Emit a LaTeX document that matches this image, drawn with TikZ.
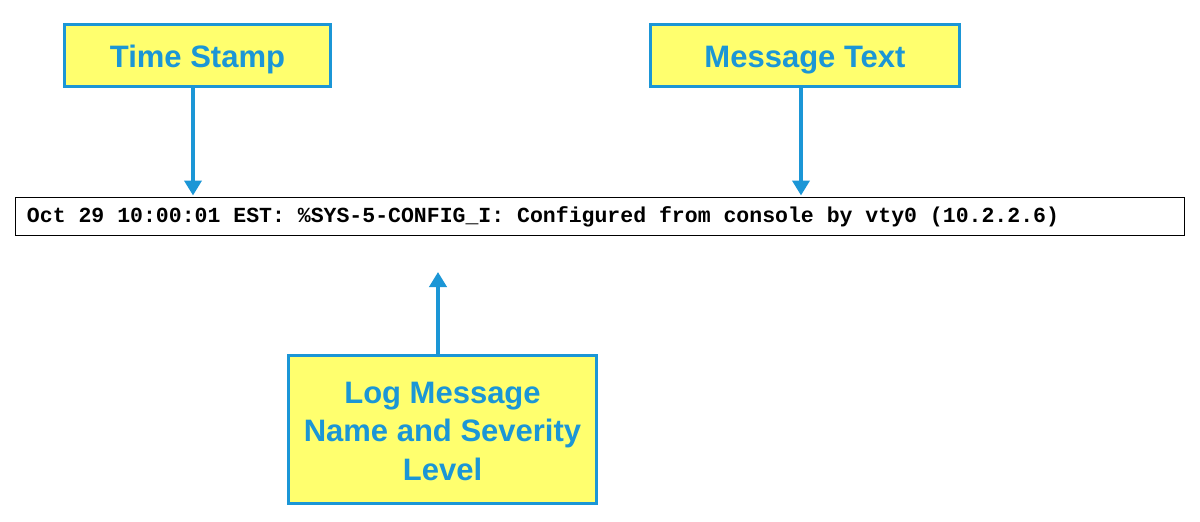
\documentclass[tikz,border=0pt]{standalone}
\usepackage{fontspec}
\setmainfont{Liberation Sans}
\setmonofont{Liberation Mono}
\usetikzlibrary{arrows.meta,calc}
\definecolor{cblue}{RGB}{27,150,214}
\definecolor{cyellow}{RGB}{255,255,110}
\begin{document}
\begin{tikzpicture}[x=1pt,y=-1pt,
  callout/.style={draw=cblue, line width=3pt, fill=cyellow, text=cblue,
    font=\fontsize{31}{38.5}\selectfont\bfseries, align=center, inner sep=0pt,
    text height=24pt, text depth=0pt},
  logline/.style={draw=black, line width=1pt, fill=white,
    font=\fontsize{21.5}{24}\selectfont\ttfamily\bfseries, align=left,
    inner xsep=11.5pt, inner ysep=0pt, minimum height=38pt, text width=1146pt},
  arr/.style={draw=cblue, line width=4pt, -{Triangle[width=17pt,length=15pt]}}]
\useasboundingbox (0,0) rectangle (1200,522);
\fill[white] (0,0) rectangle (1200,522);
\node[callout, minimum width=266pt, minimum height=62pt] (ts) at (197.5,55.5) {Time Stamp};
\node[callout, minimum width=309pt, minimum height=62pt] (mt) at (805,55.5) {Message Text};
\node[callout, minimum width=308pt, minimum height=148pt, text height=101pt] (lg) at (442.5,429.5) {Log Message\\Name and Severity\\Level};
\node[logline] (ln) at (600,216.5) {\spaceskip=0.6em\xspaceskip=0.6em Oct 29 10:00:01 EST: \%SYS-5-CONFIG\_I: Configured from console by vty0 (10.2.2.6)};
\coordinate (xa) at (193,0);
\coordinate (xb) at (801,0);
\coordinate (tipc) at (438,272);
\draw[arr, shorten >=1.5pt] (xa |- ts.south) -- (xa |- ln.north);
\draw[arr, shorten >=1.5pt] (xb |- mt.south) -- (xb |- ln.north);
\draw[arr] (tipc |- lg.north) -- (tipc);
\end{tikzpicture}
\end{document}
